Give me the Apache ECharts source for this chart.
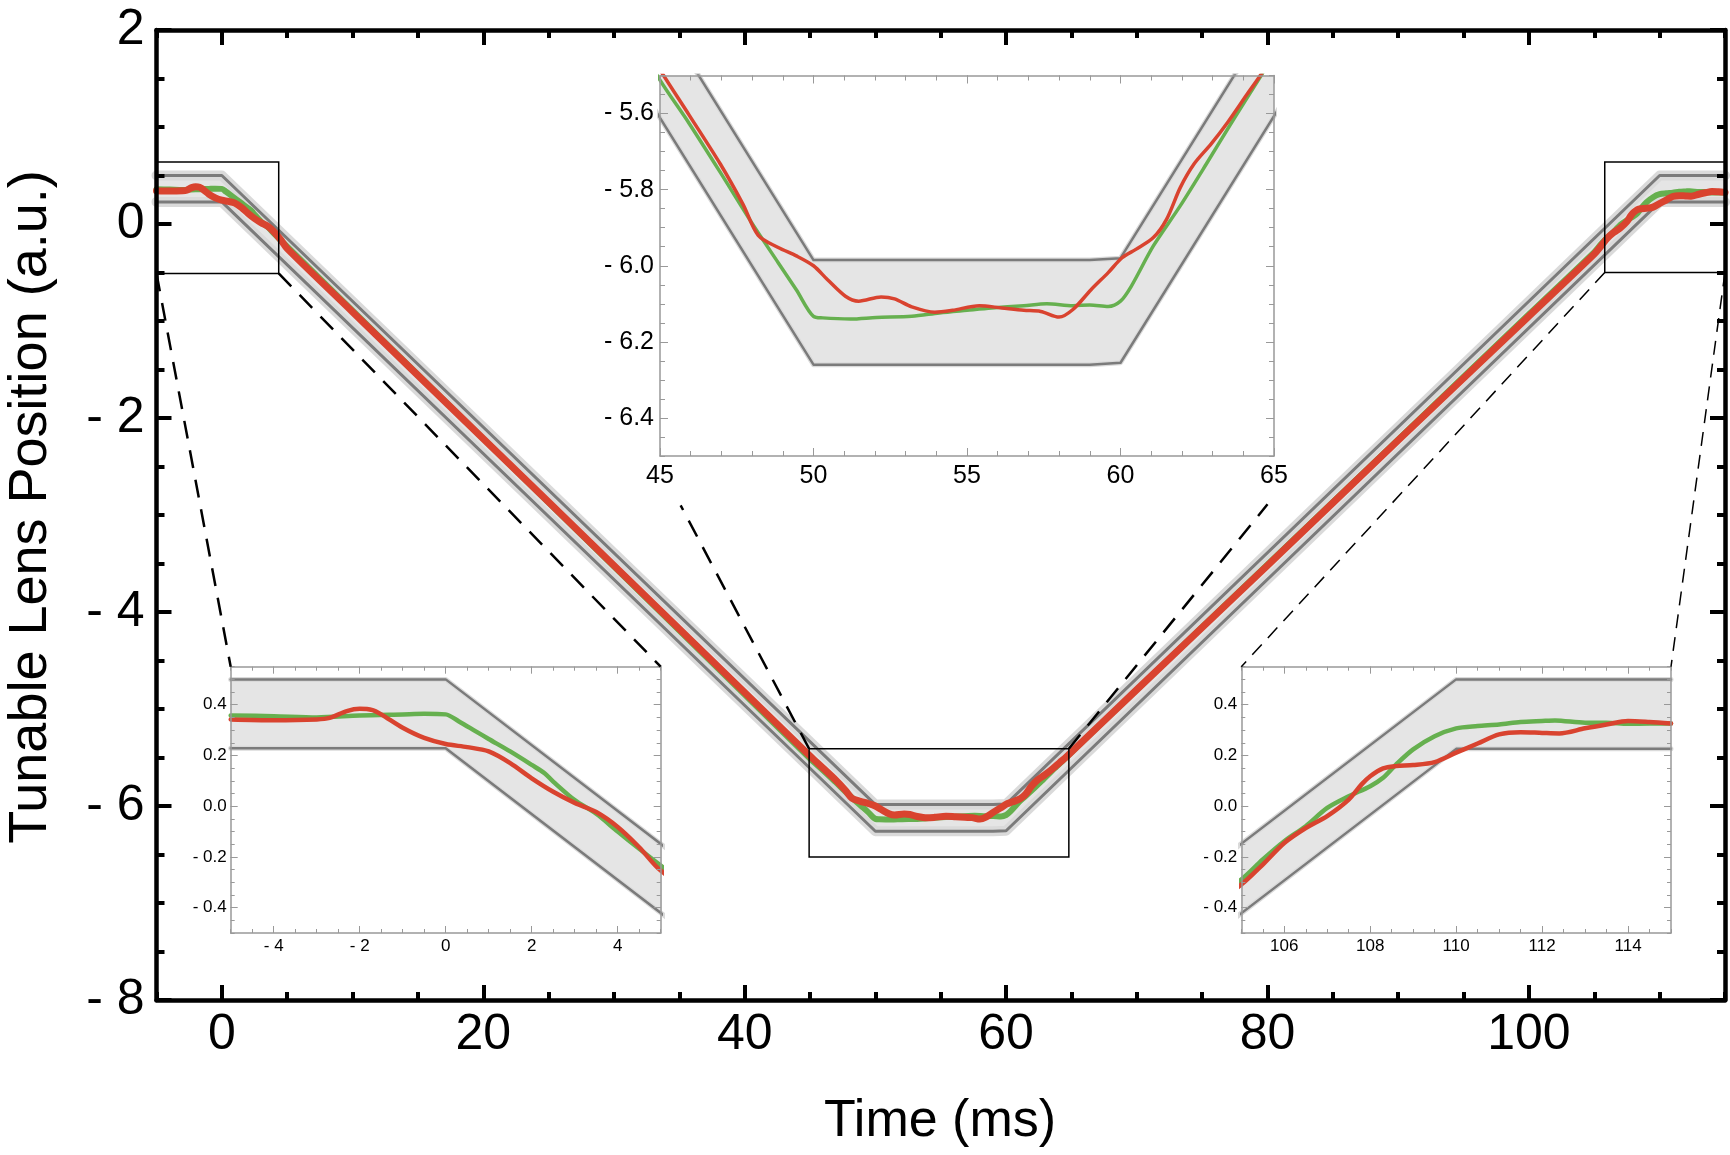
<!DOCTYPE html>
<html>
<head>
<meta charset="utf-8">
<script src="https://cdn.jsdelivr.net/npm/echarts@6/dist/echarts.min.js"></script>
<style>
  html, body { margin: 0; padding: 0; background: #fff; }
  #chart { width: 1730px; height: 1155px; }
</style>
</head>
<body>
<div id="chart"></div>
<script>
// measured lens position, green trace
const greenTime = [-5, -4, -3, -2, -1, -0.5, 0, 0.3, 0.7, 1, 1.5, 2, 2.3, 2.5, 3, 3.5, 4, 4.5, 5,
  10, 20, 30, 40,
  45, 45.95, 46.96, 47.98, 48.85, 49.44, 50.0, 50.3, 51.2, 52.05, 53.2, 54.1, 55.0, 55.8, 56.85, 57.6,
  58.45, 59.0, 59.6, 60.0, 60.35, 61.07, 61.95, 62.8, 63.7, 64.56,
  70, 80, 90, 100,
  105, 105.5, 106, 106.5, 107, 107.5, 108, 108.3, 108.6, 109, 109.5, 110, 110.5, 111, 111.5, 112, 112.3,
  113, 113.5, 114, 114.5, 115]
const greenPos = [0.358, 0.355, 0.350, 0.358, 0.362, 0.364, 0.362, 0.335, 0.295, 0.265, 0.216, 0.163, 0.13, 0.097, 0.024, -0.03, -0.10, -0.168, -0.234,
  -0.894, -2.213, -3.533, -4.852,
  -5.512, -5.626, -5.754, -5.886, -5.992, -6.063, -6.133, -6.137, -6.14, -6.136, -6.133, -6.124, -6.117, -6.111, -6.105, -6.10,
  -6.105, -6.103, -6.107, -6.093, -6.054, -5.948, -5.842, -5.732, -5.613, -5.503,
  -4.80, -3.51, -2.22, -0.93,
  -0.289, -0.21, -0.138, -0.079, -0.007, 0.039, 0.079, 0.112, 0.164, 0.224, 0.276, 0.307, 0.316, 0.322, 0.332, 0.336, 0.338,
  0.329, 0.329, 0.325, 0.326, 0.326]

// measured lens position, red trace
const redTime = [-5, -4, -3, -2.7, -2.3, -2, -1.7, -1.5, -1, -0.5, 0, 0.5, 1, 1.5, 2, 2.5, 3, 3.5, 4, 4.5, 5,
  10, 20, 30, 40,
  45, 45.95, 46.96, 47.7, 48.2, 48.85, 49.44, 50, 50.45, 51.04, 51.47, 52.2, 52.64, 53.2, 53.95, 54.53,
  55.4, 56.13, 56.85, 57.4, 58.0, 58.45, 59.04, 59.6, 60.05, 60.5, 61.07, 61.5, 61.95, 62.4, 62.96, 63.5, 64.1, 64.6,
  70, 80, 90, 100,
  105, 105.5, 106, 106.5, 107, 107.5, 107.8, 108, 108.3, 108.6, 109, 109.5, 110, 110.5, 111, 111.5, 112, 112.4,
  113, 113.5, 114, 114.5, 115]
const redPos = [0.342, 0.339, 0.342, 0.348, 0.375, 0.384, 0.379, 0.362, 0.309, 0.269, 0.245, 0.233, 0.216, 0.17, 0.11, 0.057, 0.013, -0.023, -0.082, -0.162, -0.254,
  -0.907, -2.214, -3.52, -4.83,
  -5.485, -5.604, -5.732, -5.838, -5.92, -5.952, -5.974, -6.0, -6.036, -6.08, -6.093, -6.082, -6.087, -6.108, -6.122, -6.117,
  -6.105, -6.111, -6.117, -6.12, -6.135, -6.115, -6.063, -6.018, -5.979, -5.957, -5.926, -5.878, -5.794, -5.732, -5.679, -5.622, -5.552, -5.494,
  -4.80, -3.52, -2.23, -0.95,
  -0.309, -0.23, -0.145, -0.086, -0.039, 0.026, 0.086, 0.118, 0.149, 0.158, 0.162, 0.174, 0.211, 0.247, 0.283, 0.292, 0.289, 0.287,
  0.307, 0.322, 0.336, 0.332, 0.326]

// tolerance band corners
const bandTime = [-5, 0, 50, 59, 60, 110, 115]
const bandUpper = [0.5, 0.5, -5.985, -5.985, -5.98, 0.5, 0.5]
const bandLower = [0.228, 0.228, -6.26, -6.26, -6.255, 0.226, 0.226]

// tick values
const mainXMajor = [0, 20, 40, 60, 80, 100]
const mainYMajor = [-8, -6, -4, -2, 0, 2]
const midXMajor = [45, 50, 55, 60, 65]
const midYMajor = [-6.4, -6.2, -6.0, -5.8, -5.6]
const startXMajor = [-4, -2, 0, 2, 4]
const endXMajor = [106, 108, 110, 112, 114]
const zoomYMajor = [-0.4, -0.2, 0, 0.2, 0.4]

const FONT = 'Liberation Sans, Arial, Helvetica, sans-serif'

const signed = (d) => (v) => (v < 0 ? '- ' : '') + (d ? Math.abs(v).toFixed(d) : String(Math.abs(v)))

const bigStyle = { color: '#000', lineW: 4.5, tickW: 4, majorLen: 15, minorLen: 8, font: 50 }
const midStyle = { color: '#999', lineW: 1.5, tickW: 1, majorLen: 8, minorLen: 5, font: 25 }
const smallStyle = { color: '#999', lineW: 1.5, tickW: 1, majorLen: 7, minorLen: 4, font: 17 }

// one side of the frame = a minor-tick axis + a major-tick/label axis
function sideAxes (grid, pos, range, step, majors, showLabels, st, fmt, margin) {
  const common = {
    type: 'value', gridIndex: grid, position: pos, min: range[0], max: range[1],
    interval: step, splitLine: { show: false }, z: 10, silent: true
  }
  const minor = Object.assign({}, common, {
    axisLine: { show: false, onZero: false },
    axisTick: { show: true, inside: true, length: st.minorLen, lineStyle: { color: st.color, width: st.tickW } },
    axisLabel: { show: false }
  })
  const major = Object.assign({}, common, {
    axisLine: { show: true, onZero: false, lineStyle: { color: st.color, width: st.lineW } },
    axisTick: { show: true, inside: true, length: st.majorLen, customValues: majors, lineStyle: { color: st.color, width: st.tickW } },
    axisLabel: showLabels
      ? { show: true, customValues: majors, formatter: fmt, fontSize: st.font, fontFamily: FONT, color: '#000', margin: margin }
      : { show: false }
  })
  return [minor, major]
}

const panels = [
  { rect: { left: 156.5, top: 30, width: 1568.5, height: 970 }, x: [-5, 115], y: [-8, 2], xs: 5, ys: 0.5,
    xm: mainXMajor, ym: mainYMajor, st: bigStyle, xf: signed(0), yf: signed(0), xg: 10, yg: 12 },
  { rect: { left: 660, top: 75.5, width: 614, height: 380.5 }, x: [45, 65], y: [-6.5, -5.5], xs: 1, ys: 0.05,
    xm: midXMajor, ym: midYMajor, st: midStyle, xf: signed(0), yf: signed(1), xg: 8, yg: 6 },
  { rect: { left: 230.7, top: 666.7, width: 430, height: 266.3 }, x: [-5, 5], y: [-0.5, 0.55], xs: 0.5, ys: 0.05,
    xm: startXMajor, ym: zoomYMajor, st: smallStyle, xf: signed(0), yf: signed(1), xg: 5, yg: 4 },
  { rect: { left: 1241.3, top: 666.7, width: 429.7, height: 266.3 }, x: [105, 115], y: [-0.5, 0.55], xs: 0.5, ys: 0.05,
    xm: endXMajor, ym: zoomYMajor, st: smallStyle, xf: signed(0), yf: signed(1), xg: 5, yg: 4 }
]

const grids = []
const xAxes = []
const yAxes = []
panels.forEach((p, g) => {
  grids.push(Object.assign({ show: true, backgroundColor: '#fff', borderWidth: 0, containLabel: false }, p.rect))
  xAxes.push(...sideAxes(g, 'bottom', p.x, p.xs, p.xm, true, p.st, p.xf, p.xg))
  xAxes.push(...sideAxes(g, 'top', p.x, p.xs, p.xm, false, p.st, p.xf, p.xg))
  yAxes.push(...sideAxes(g, 'left', p.y, p.ys, p.ym, true, p.st, p.yf, p.yg))
  yAxes.push(...sideAxes(g, 'right', p.y, p.ys, p.ym, false, p.st, p.yf, p.yg))
})

function bandFill (g) {
  return {
    type: 'custom', xAxisIndex: g * 4, yAxisIndex: g * 4, clip: true, silent: true, z: 1,
    data: [[bandTime[1], bandLower[1]]],
    renderItem (params, api) {
      const pts = []
      bandTime.forEach((t, i) => pts.push(api.coord([t, bandUpper[i]])))
      for (let i = bandTime.length - 1; i >= 0; i--) pts.push(api.coord([bandTime[i], bandLower[i]]))
      return { type: 'polygon', shape: { points: pts }, style: { fill: '#e5e5e5' } }
    }
  }
}

function trace (g, time, pos, color, width, z, smooth) {
  return {
    type: 'line', xAxisIndex: g * 4, yAxisIndex: g * 4, silent: true, z: z,
    data: time.map((t, i) => [t, pos[i]]),
    showSymbol: false, symbol: 'none', smooth: smooth,
    lineStyle: { color: color, width: width, cap: 'round', join: 'round' }
  }
}

const series = []
const firstSeries = []
panels.forEach((p, g) => {
  firstSeries.push(series.length)
  const big = g === 0
  series.push(bandFill(g))
  series.push(trace(g, bandTime, bandUpper, '#dadada', big ? 10 : 5, 2, false))
  series.push(trace(g, bandTime, bandLower, '#dadada', big ? 10 : 5, 2, false))
  series.push(trace(g, bandTime, bandUpper, '#7b7b7b', big ? 3 : 2.5, 3, false))
  series.push(trace(g, bandTime, bandLower, '#7b7b7b', big ? 3 : 2.5, 3, false))
  series.push(trace(g, greenTime, greenPos, '#66b04f', big ? 6 : (g === 1 ? 3.5 : 4.5), 4, 0.3))
  series.push(trace(g, redTime, redPos, '#d9432f', big ? 7 : (g === 1 ? 3.5 : 4.5), 5, 0.3))
})

const chart = echarts.init(document.getElementById('chart'))
chart.setOption({
  animation: false,
  backgroundColor: '#fff',
  grid: grids,
  xAxis: xAxes,
  yAxis: yAxes,
  series: series
})

// boxes on the main plot and dashed leaders to the insets
const px = (g, x, y) => chart.convertToPixel({ seriesIndex: firstSeries[g] }, [x, y])

function boxRect (x0, x1, y0, y1) {
  const a = px(0, x0, y1)
  const b = px(0, x1, y0)
  return {
    type: 'rect', z: 20, silent: true,
    shape: { x: a[0], y: a[1], width: b[0] - a[0], height: b[1] - a[1] },
    style: { fill: 'none', stroke: '#000', lineWidth: 1.5 }
  }
}

function leader (a, b, w, dash) {
  return {
    type: 'line', z: 20, silent: true,
    shape: { x1: a[0], y1: a[1], x2: b[0], y2: b[1] },
    style: { stroke: '#000', lineWidth: w, lineDash: dash }
  }
}

const graphics = [
  boxRect(-5, 4.35, -0.51, 0.64),
  boxRect(44.93, 64.8, -6.526, -5.41),
  boxRect(105.8, 115, -0.5, 0.64),
  leader(px(0, -5, -0.51), px(2, -5, 0.55), 2.5, [18, 12]),
  leader(px(0, 4.35, -0.51), px(2, 5, 0.55), 2.5, [18, 12]),
  leader(px(0, 44.93, -5.41), px(0, 35.1, -2.9), 2.5, [18, 12]),
  leader(px(0, 64.8, -5.41), px(0, 80.0, -2.89), 2.5, [18, 12]),
  leader(px(0, 105.8, -0.5), px(3, 105, 0.55), 1.5, [14, 9]),
  leader(px(0, 115, -0.5), px(3, 115, 0.55), 1.5, [14, 9]),
  {
    type: 'text', z: 20, silent: true, x: 940, y: 1122,
    style: { text: 'Time (ms)', font: '52px ' + FONT, fill: '#000', align: 'center', verticalAlign: 'middle' }
  },
  {
    type: 'text', z: 20, silent: true, x: 31, y: 507, rotation: Math.PI / 2,
    style: { text: 'Tunable Lens Position (a.u.)', font: '54px ' + FONT, fill: '#000', align: 'center', verticalAlign: 'middle' }
  }
]
chart.setOption({ graphic: graphics })
</script>
</body>
</html>
